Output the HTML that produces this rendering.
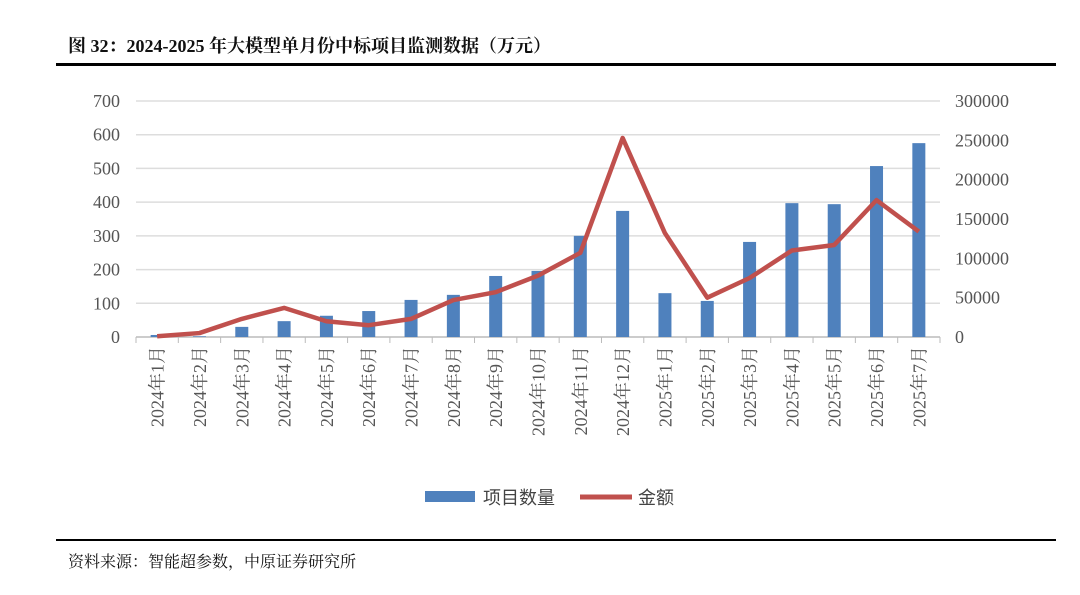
<!DOCTYPE html>
<html><head><meta charset="utf-8"><style>
body{margin:0;background:#fff;width:1080px;height:590px;overflow:hidden;font-family:"Liberation Serif","Noto Serif CJK SC",serif}
</style></head><body>
<svg width="1080" height="590" xmlns="http://www.w3.org/2000/svg">
<text x="68" y="52" font-size="18" font-weight="bold" font-family="Liberation Serif, Noto Serif CJK SC, serif" fill="#111">图 32：2024-2025 年大模型单月份中标项目监测数据（万元）</text>
<rect x="56" y="63" width="1000" height="3" fill="#000"/>
<g id="grid"></g><g id="bars"></g><g id="line"></g><g id="axes"></g>
<g>
<rect x="425" y="491" width="50" height="11" fill="#4f81bd"/>
<text x="483" y="504" font-size="18" fill="#444" font-family="Liberation Sans, Noto Sans CJK SC, sans-serif">项目数量</text>
<line x1="580" y1="497" x2="632" y2="497" stroke="#c0504d" stroke-width="5"/>
<text x="638" y="504" font-size="18" fill="#444" font-family="Liberation Sans, Noto Sans CJK SC, sans-serif">金额</text>
</g>
<rect x="56" y="539" width="1000" height="2" fill="#000"/>
<text x="68" y="567" font-size="16" fill="#111" font-family="Liberation Serif, Noto Serif CJK SC, serif">资料来源：智能超参数，中原证券研究所</text>
</svg>
<script>
const categories=["2024年1月","2024年2月","2024年3月","2024年4月","2024年5月","2024年6月","2024年7月","2024年8月","2024年9月","2024年10月","2024年11月","2024年12月","2025年1月","2025年2月","2025年3月","2025年4月","2025年5月","2025年6月","2025年7月"];
const counts=[6,2,30,47,63,77,110,125,181,196,300,374,130,107,282,397,394,507,575];
const amounts=[1000,5000,23000,37000,20000,15000,23000,47000,57000,78000,107000,253000,132000,50000,75000,110000,117000,174000,134000];
const leftTicks=[0,100,200,300,400,500,600,700];
const rightTicks=[0,50000,100000,150000,200000,250000,300000];
const NS="http://www.w3.org/2000/svg";
const X0=136,X1=940,Y0=337,Y1=101;
const step=(X1-X0)/categories.length;
const xc=i=>X0+step*(i+0.5);
const yL=v=>Y0-(v/700)*(Y0-Y1);
const yR=v=>Y0-(v/300000)*(Y0-Y1);
function mk(tag,attrs,parent){const e=document.createElementNS(NS,tag);for(const k in attrs)e.setAttribute(k,attrs[k]);document.getElementById(parent).appendChild(e);return e;}
leftTicks.forEach(t=>{
 const g=mk("line",{x1:X0,x2:X1,y1:yL(t),y2:yL(t),stroke:t===0?"#bbb":"#ddd","stroke-width":1.5},"grid");
 
 
 const l=mk("text",{x:120,y:yL(t)+6,"text-anchor":"end","font-size":18,fill:"#555"},"axes");
 l.textContent=t;
 
 
});
rightTicks.forEach(t=>{
 const l=mk("text",{x:955,y:yR(t)+6,"text-anchor":"start","font-size":18,fill:"#555"},"axes");
 l.textContent=t;
 
 
});
for(let i=0;i<=categories.length;i++){
 const tk=mk("line",{x1:X0+step*i,x2:X0+step*i,y1:Y0,y2:Y0+6,stroke:"#bbb","stroke-width":1},"axes");
 
 
}
categories.forEach((c,i)=>{
 const t=mk("text",{transform:`translate(${xc(i)+6.5},346) rotate(-90)`,"text-anchor":"end","font-size":18,fill:"#555"},"axes");
 t.textContent=c;
 
 
});
counts.forEach((v,i)=>{
 const b=mk("rect",{x:xc(i)-6.5,y:yL(v),width:13,height:Y0-yL(v),fill:"#4f81bd"},"bars");
 
 
});
const p=mk("polyline",{points:amounts.map((v,i)=>xc(i)+","+yR(v)).join(" "),fill:"none",stroke:"#c0504d","stroke-width":4.5,"stroke-linejoin":"round"},"line");


</script>
</body></html>
